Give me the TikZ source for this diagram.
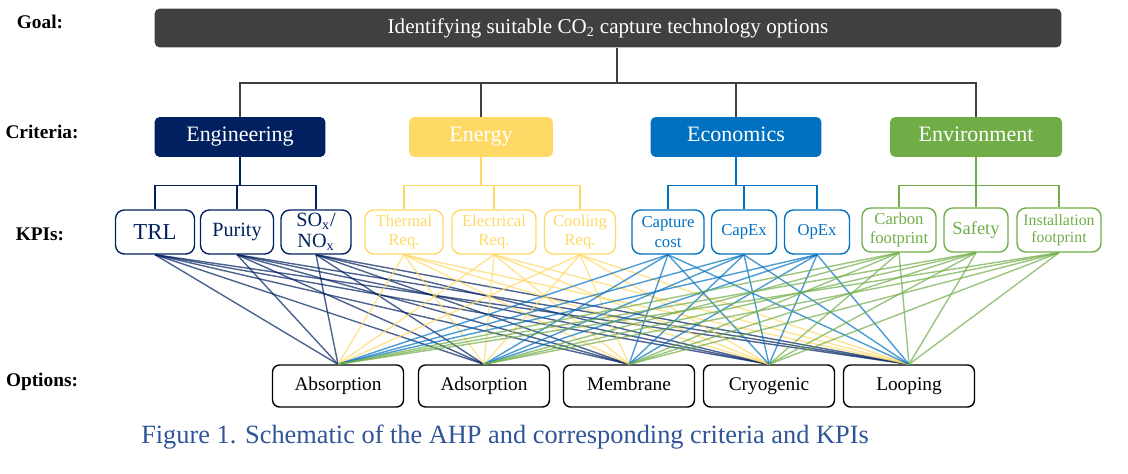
\documentclass[tikz,border=0pt]{standalone}
\usepackage{fontspec}
\setmainfont{Liberation Serif}
\usetikzlibrary{positioning}
\definecolor{goalgray}{HTML}{404040}
\definecolor{engblue}{HTML}{002060}
\definecolor{enyellow}{HTML}{FFD966}
\definecolor{ecoblue}{HTML}{0070C0}
\definecolor{envgreen}{HTML}{70AD47}
\definecolor{capblue}{HTML}{2F5597}
\definecolor{treegray}{HTML}{404040}
\begin{document}
\begin{tikzpicture}[x=0.02cm,y=-0.02cm
	,crit/.style={rounded corners=3pt,text=white,font=\fontsize{12.5}{14}\selectfont,minimum height=0.8cm,text height=1.6ex,text depth=0.5ex}
	,kpi/.style={draw,rounded corners=5pt,thick,minimum height=0.88cm,align=center,inner sep=1pt}
	,opt/.style={draw,rounded corners=4pt,thick,minimum height=0.84cm,minimum width=2.62cm,font=\fontsize{11}{13}\selectfont,text height=1.6ex,text depth=0.5ex}
	,lev/.style={font=\bfseries\fontsize{11}{13}\selectfont}
	,tree/.style={semithick}
	,mesh/.style={line width=0.8pt,opacity=0.7}]
  \useasboundingbox (0,0) rectangle (1128,473);
  % level names
  \node[lev] (lgoal) at (40,22)  {Goal:};
  \node[lev] (lcrit) at (42,132) {Criteria:};
  \node[lev] (lkpi)  at (40,234) {KPIs:};
  \node[lev] (lopt)  at (42,382) {Options:};
  % goal
  \node[fill=goalgray,text=white,rounded corners=3pt,minimum width=18.14cm,minimum height=0.78cm
    ,font=\fontsize{12}{14}\selectfont] (goal) at (608,28)
    {Identifying suitable CO\textsubscript{2} capture technology options};
  % criteria
  \node[crit,fill=engblue,minimum width=3.42cm]  (eng) at (240,137) {Engineering};
  \node[crit,fill=enyellow,minimum width=2.88cm] (ene) at (481,137) {Energy};
  \node[crit,fill=ecoblue,minimum width=3.42cm]  (eco) at (736,137) {Economics};
  \node[crit,fill=envgreen,minimum width=3.44cm] (env) at (976,137) {Environment};
  \coordinate (gj) at (617,83);
  \draw[tree,treegray] (goal.south -| gj) -- (gj);
  \draw[tree,treegray] (eng.north) |- (gj) -| (env.north);
  \draw[tree,treegray] (ene.north) -- (ene.north |- gj);
  \draw[tree,treegray] (eco.north) -- (eco.north |- gj);
  % KPIs
  \node[kpi,engblue,minimum width=1.58cm,font=\fontsize{13}{14}\selectfont] (trl) at (155,232) {TRL};
  \node[kpi,engblue,minimum width=1.46cm,font=\fontsize{11.5}{13}\selectfont] (pur) at (237,232) {Purity};
  \node[kpi,engblue,minimum width=1.40cm,font=\fontsize{11.5}{12}\selectfont] (sox) at (316,232) {SO\textsubscript{x}/\\NO\textsubscript{x}};
  \node[kpi,enyellow,minimum width=1.56cm,font=\fontsize{9.5}{11}\selectfont] (the) at (404,232) {Thermal\\Req.};
  \node[kpi,enyellow,minimum width=1.68cm,font=\fontsize{9.5}{11}\selectfont] (ele) at (494,232) {Electrical\\Req.};
  \node[kpi,enyellow,minimum width=1.42cm,font=\fontsize{9.5}{11}\selectfont] (coo) at (580,232) {Cooling\\Req.};
  \node[kpi,ecoblue,minimum width=1.44cm,font=\fontsize{9.5}{11}\selectfont] (cap) at (668,232) {Capture\\cost};
  \node[kpi,ecoblue,minimum width=1.30cm,font=\fontsize{9.5}{11}\selectfont] (cpx) at (744,232) {CapEx};
  \node[kpi,ecoblue,minimum width=1.30cm,font=\fontsize{9.5}{11}\selectfont] (opx) at (817,232) {OpEx};
  \node[kpi,envgreen,minimum width=1.48cm,font=\fontsize{9.5}{11}\selectfont] (car) at (899,230) {Carbon\\footprint};
  \node[kpi,envgreen,minimum width=1.28cm,font=\fontsize{10.5}{12}\selectfont] (saf) at (976,230) {Safety};
  \node[kpi,envgreen,minimum width=1.68cm,font=\fontsize{9}{10}\selectfont] (ins) at (1059,230) {Installation\\footprint};
  % criteria to KPIs
  \foreach \c/\col/\a/\b/\m in {eng/engblue/trl/sox/pur,ene/enyellow/the/coo/ele,eco/ecoblue/cap/opx/cpx,env/envgreen/car/ins/saf}{
    \coordinate (j\c) at ([yshift=-16pt]\c.south);
    \draw[tree,\col] (\c.south) -- (j\c);
    \draw[tree,\col] (\a.north) |- (j\c) -| (\b.north);
    \draw[tree,\col] (\m.north) -- (\m.north |- j\c);
  }
  % options
  \node[opt] (abs) at (338,386) {Absorption};
  \node[opt] (ads) at (484,386) {Adsorption};
  \node[opt] (mem) at (629,386) {Membrane};
  \node[opt] (cry) at (769,386) {Cryogenic};
  \node[opt] (loo) at (909,386) {Looping};
  % KPIs to options
  \foreach \k/\col in {trl/engblue,pur/engblue,sox/engblue,the/enyellow,ele/enyellow,coo/enyellow,
                       cap/ecoblue,cpx/ecoblue,opx/ecoblue,car/envgreen,saf/envgreen,ins/envgreen}
    \foreach \o in {abs,ads,mem,cry,loo}
      \draw[mesh,\col] (\k.south) -- (\o.north);
  % caption
  \node[text=capblue,font=\fontsize{15}{17}\selectfont] (cap1) at (505,437)
    {Figure 1. Schematic of the AHP and corresponding criteria and KPIs};
\end{tikzpicture}
\end{document}
